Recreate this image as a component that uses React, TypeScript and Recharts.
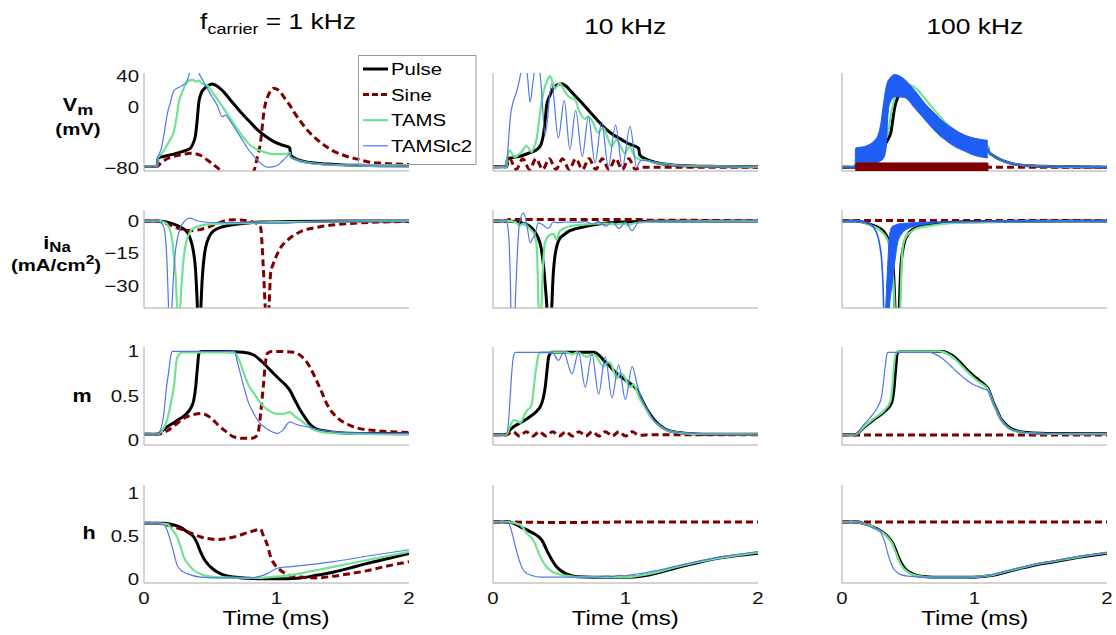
import React from 'react';
import { ComposedChart, Line, Area, XAxis, YAxis } from 'recharts';

type P = [number, number][];
type B = [number, number, number][];

// ---------- axis ticks ----------
const vmTicks = [-80, 0, 40];
const inaTicks = [-30, -15, 0];
const mTicks = [0, 0.5, 1];
const hTicks = [0, 0.5, 1];
const timeTicks = [0, 1, 2];
const colTitles = ['1 kHz', '10 kHz', '100 kHz'];
const legendNames = ['Pulse', 'Sine', 'TAMS', 'TAMSlc2'];

// ---------- 1 kHz ----------
const vm1Pulse: P = [[0,-78],[0.1,-78],[0.105,-67],[0.15,-65],[0.225,-62],[0.3,-58],[0.351,-54],[0.375,-46],[0.389,-37],[0.4,-20],[0.414,6],[0.43,17],[0.452,23],[0.48,27],[0.515,29.5],[0.55,27],[0.603,19],[0.66,7],[0.729,-6.8],[0.8,-20],[0.855,-30],[0.92,-39],[0.98,-45.7],[1.04,-50],[1.094,-53],[1.1,-54],[1.107,-63],[1.15,-68.5],[1.233,-72.4],[1.3,-74],[1.384,-75],[1.5,-76],[1.635,-76.5],[1.8,-77],[2,-77.5]];
const vm1Sine: P = [[0,-78],[0.1,-78],[0.125,-74],[0.175,-68],[0.225,-65],[0.3,-62],[0.351,-60.8],[0.427,-63.6],[0.48,-70],[0.527,-76],[0.57,-82],[0.603,-86],[0.65,-91],[0.72,-95],[0.78,-92],[0.829,-84],[0.85,-70],[0.88,-45.7],[0.905,-6.8],[0.943,16.8],[0.98,24.2],[1.02,21],[1.056,12.6],[1.1,2],[1.131,-6.8],[1.18,-19],[1.233,-30.6],[1.3,-42],[1.358,-50],[1.42,-57],[1.484,-62],[1.55,-66],[1.61,-68.5],[1.686,-72],[1.8,-74],[1.9,-75],[2,-75.5]];
const vm1Tams: P = [[0,-78],[0.1,-78],[0.105,-67],[0.14,-60],[0.175,-50],[0.2,-42],[0.225,-32.7],[0.245,-15],[0.263,6],[0.288,19],[0.31,28],[0.338,34],[0.37,35],[0.39,33],[0.414,34],[0.44,29.8],[0.477,27.7],[0.515,19],[0.553,10],[0.6,-2],[0.653,-15.5],[0.7,-28],[0.754,-41],[0.8,-50],[0.855,-56],[0.92,-60],[0.98,-62],[1.04,-62],[1.094,-61],[1.1,-60],[1.107,-66],[1.15,-69.5],[1.233,-73],[1.384,-75.5],[1.635,-77],[2,-78]];
const vm1Lc2: P = [[0,-78],[0.1,-78],[0.105,-67],[0.13,-55],[0.15,-37],[0.175,-10],[0.2,6],[0.225,21],[0.26,25],[0.288,27.6],[0.326,34],[0.34,42],[0.355,55],[0.39,60],[0.405,55],[0.414,45],[0.44,36],[0.465,27.6],[0.51,14],[0.553,1.7],[0.59,-13],[0.605,-12],[0.616,-11],[0.64,-16],[0.678,-26],[0.73,-40],[0.78,-54],[0.83,-65],[0.88,-73.7],[0.93,-79],[0.97,-78.5],[1.006,-76.7],[1.05,-70],[1.08,-65],[1.1,-61],[1.107,-66],[1.15,-69.5],[1.233,-73],[1.384,-75.5],[1.635,-77],[2,-78]];

const ina1Pulse: P = [[0,0],[0.1,0],[0.15,-0.3],[0.2,-1],[0.276,-2.9],[0.33,-5.5],[0.35,-8.3],[0.37,-13],[0.389,-22.5],[0.4,-35],[0.414,-55],[0.425,-45],[0.44,-26],[0.455,-16],[0.465,-12.2],[0.49,-7.5],[0.527,-4.5],[0.6,-2.6],[0.68,-1.7],[0.88,-0.5],[1.1,-0.3],[1.5,-0.1],[2,0]];
const ina1Sine: P = [[0,0],[0.1,0],[0.175,-1.4],[0.276,-3.7],[0.35,-4.5],[0.42,-4],[0.48,-3],[0.56,-1],[0.62,0.2],[0.68,0.5],[0.75,0.3],[0.82,-0.5],[0.86,-1.5],[0.88,-3],[0.9,-21],[0.915,-40],[0.93,-55],[0.945,-38],[0.955,-24.4],[0.98,-19],[1.006,-15.2],[1.04,-11.5],[1.08,-9],[1.18,-5],[1.33,-2.7],[1.56,-1.2],[1.8,-0.5],[2,-0.3]];
const ina1Tams: P = [[0,0],[0.1,0],[0.15,-0.5],[0.175,-1.5],[0.2,-5],[0.213,-9],[0.225,-16],[0.238,-24.4],[0.25,-40],[0.262,-50],[0.275,-38],[0.285,-28],[0.3,-17],[0.313,-11.4],[0.34,-6],[0.365,-3.7],[0.42,-2.3],[0.478,-1.6],[0.7,-1],[1.1,-0.5],[1.5,-0.2],[2,0]];
const ina1Lc2: P = [[0,0],[0.1,0],[0.13,-1],[0.15,-3],[0.165,-10],[0.175,-21],[0.188,-45],[0.2,-55],[0.212,-38],[0.22,-28],[0.235,-15],[0.25,-8.8],[0.275,-3],[0.3,-0.6],[0.33,1],[0.35,1.3],[0.38,0.5],[0.45,-0.5],[0.6,-0.8],[0.8,-0.8],[1.0,-1],[1.1,-1],[1.2,-0.5],[1.5,-0.2],[2,0]];

const m1Pulse: P = [[0,0.07],[0.1,0.07],[0.13,0.1],[0.175,0.155],[0.225,0.2],[0.276,0.25],[0.32,0.3],[0.351,0.36],[0.375,0.45],[0.39,0.6],[0.405,0.85],[0.414,0.976],[0.43,1],[0.6,1],[0.75,0.99],[0.829,0.96],[0.88,0.9],[0.93,0.826],[0.98,0.75],[1.03,0.677],[1.07,0.62],[1.1,0.566],[1.14,0.45],[1.18,0.34],[1.22,0.25],[1.258,0.174],[1.3,0.13],[1.36,0.11],[1.5,0.085],[1.7,0.078],[2,0.075]];
const m1Sine: P = [[0,0.07],[0.1,0.07],[0.175,0.11],[0.24,0.18],[0.3,0.25],[0.37,0.29],[0.43,0.305],[0.5,0.26],[0.56,0.174],[0.62,0.1],[0.68,0.04],[0.75,0.025],[0.81,0.025],[0.84,0.04],[0.86,0.08],[0.88,0.3],[0.9,0.6],[0.915,0.85],[0.93,0.976],[0.96,1.0],[1.0,1.0],[1.13,0.99],[1.2,0.93],[1.25,0.83],[1.3,0.68],[1.34,0.55],[1.38,0.41],[1.43,0.3],[1.48,0.23],[1.54,0.18],[1.61,0.14],[1.76,0.11],[2,0.09]];
const m1Tams: P = [[0,0.07],[0.1,0.07],[0.13,0.1],[0.175,0.23],[0.2,0.4],[0.225,0.6],[0.25,0.93],[0.29,0.99],[0.68,0.99],[0.72,0.9],[0.754,0.75],[0.79,0.62],[0.83,0.53],[0.87,0.44],[0.905,0.38],[0.95,0.33],[1.0,0.3],[1.05,0.3],[1.1,0.32],[1.14,0.27],[1.18,0.23],[1.24,0.16],[1.3,0.11],[1.4,0.085],[1.6,0.075],[2,0.07]];
const m1Lc2: P = [[0,0.07],[0.1,0.07],[0.125,0.12],[0.15,0.305],[0.17,0.6],[0.188,0.79],[0.2,0.93],[0.213,1.0],[0.68,1.0],[0.71,0.85],[0.754,0.6],[0.79,0.42],[0.83,0.3],[0.87,0.2],[0.905,0.155],[0.95,0.11],[1.006,0.08],[1.05,0.12],[1.1,0.21],[1.15,0.18],[1.23,0.155],[1.3,0.13],[1.43,0.1],[1.6,0.085],[2,0.08]];

const h1Pulse: P = [[0,0.65],[0.1,0.65],[0.15,0.65],[0.225,0.63],[0.28,0.6],[0.326,0.55],[0.376,0.49],[0.4,0.42],[0.427,0.315],[0.45,0.24],[0.477,0.18],[0.515,0.12],[0.553,0.08],[0.6,0.045],[0.678,0.02],[0.8,0.005],[0.88,0.0],[1.0,0.0],[1.18,0.01],[1.3,0.04],[1.434,0.08],[1.55,0.125],[1.686,0.18],[1.85,0.24],[2,0.296]];
const h1Sine: P = [[0,0.65],[0.1,0.65],[0.2,0.62],[0.3,0.57],[0.43,0.49],[0.55,0.46],[0.68,0.49],[0.8,0.55],[0.88,0.58],[0.9,0.51],[0.93,0.4],[0.955,0.26],[0.99,0.16],[1.03,0.1],[1.1,0.04],[1.18,0.02],[1.3,0.01],[1.43,0.03],[1.56,0.06],[1.7,0.1],[1.81,0.14],[2,0.2]];
const h1Tams: P = [[0,0.65],[0.1,0.65],[0.175,0.64],[0.21,0.58],[0.25,0.49],[0.275,0.38],[0.3,0.256],[0.34,0.16],[0.376,0.1],[0.42,0.06],[0.477,0.03],[0.6,0.015],[0.7,0.01],[0.86,0.01],[0.95,0.02],[1.1,0.04],[1.25,0.085],[1.43,0.14],[1.686,0.22],[2,0.316]];
const h1Lc2: P = [[0,0.65],[0.1,0.65],[0.15,0.63],[0.175,0.57],[0.195,0.47],[0.213,0.37],[0.23,0.27],[0.25,0.16],[0.28,0.1],[0.326,0.06],[0.43,0.02],[0.6,0.01],[0.8,0.01],[0.88,0.03],[0.93,0.06],[1.0,0.12],[1.05,0.135],[1.1,0.14],[1.25,0.165],[1.43,0.2],[1.7,0.27],[2,0.34]];

// ---------- 10 kHz ----------
const vm10Pulse: P = [[0,-78.5],[0.103,-78.5],[0.108,-68],[0.15,-66.5],[0.216,-64],[0.28,-60],[0.342,-54.5],[0.365,-48],[0.38,-37],[0.395,-15],[0.405,1.8],[0.43,15],[0.468,27],[0.518,30],[0.55,27],[0.594,19],[0.66,7],[0.72,-4.6],[0.78,-16],[0.845,-28],[0.91,-37],[0.97,-43],[1.03,-49],[1.097,-54],[1.1,-55],[1.107,-63],[1.15,-68],[1.22,-72.5],[1.32,-75.5],[1.5,-77.5],[1.7,-78],[2,-78.5]];
const vm10Sine: P = [[0,-78.5],[0.1,-78.5],[0.125,-68],[0.175,-82],[0.225,-68],[0.275,-82],[0.325,-68],[0.375,-82],[0.425,-68],[0.475,-82],[0.525,-68],[0.575,-82],[0.625,-68],[0.675,-82],[0.725,-68],[0.775,-82],[0.825,-68],[0.875,-82],[0.925,-68],[0.975,-82],[1.025,-68],[1.075,-82],[1.1,-80],[1.15,-79],[2,-79]];
const vm10Tams: P = [[0,-78.5],[0.103,-78.5],[0.108,-66],[0.128,-57],[0.145,-62],[0.166,-66],[0.19,-63],[0.216,-59],[0.24,-53],[0.254,-51],[0.275,-56],[0.29,-59],[0.31,-53],[0.33,-41],[0.35,-15],[0.367,6],[0.385,22],[0.405,32],[0.43,40],[0.45,32],[0.468,23.6],[0.49,28],[0.505,30],[0.53,24],[0.556,16],[0.59,11],[0.615,10],[0.656,-8],[0.694,-16],[0.72,-13],[0.75,-19],[0.795,-34],[0.815,-30],[0.833,-28],[0.86,-38],[0.895,-52],[0.915,-47],[0.933,-43],[0.96,-51],[0.996,-61],[1.015,-55],[1.03,-52],[1.055,-60],[1.08,-67],[1.1,-68],[1.107,-69],[1.15,-70],[1.22,-73],[1.32,-75.5],[1.5,-77.5],[1.7,-78],[2,-78.5]];
const vm10Lc2: P = [[0,-78.5],[0.103,-78.5],[0.115,-50],[0.13,-15],[0.15,5],[0.175,18],[0.2,35],[0.22,55],[0.24,62],[0.26,40],[0.28,6],[0.3,30],[0.32,55],[0.34,62],[0.36,35],[0.393,-37],[0.443,30],[0.493,-41],[0.538,8],[0.58,-56],[0.624,-5],[0.674,-65],[0.72,-13],[0.77,-73.7],[0.82,-20],[0.87,-78],[0.925,-24],[0.976,-79.3],[1.034,-26],[1.085,-80],[1.1,-74],[1.12,-70],[1.15,-70],[1.22,-73],[1.32,-75.5],[1.5,-77.5],[1.7,-78],[2,-78.5]];

const ina10Pulse: P = [[0,0],[0.103,0],[0.166,-0.3],[0.22,-1],[0.267,-2],[0.31,-4.5],[0.342,-8],[0.365,-13],[0.38,-20],[0.395,-30],[0.405,-38],[0.418,-55],[0.43,-60],[0.44,-45],[0.455,-24],[0.468,-16],[0.48,-12],[0.5,-8.5],[0.53,-6.7],[0.57,-4.8],[0.62,-3.7],[0.72,-2.2],[0.845,-1.1],[1,-0.5],[1.2,-0.2],[2,0]];
const ina10Sine: P = [[0,0],[0.1,0],[0.12,0.6],[1.1,0.6],[1.2,0.3],[2,0.2]];
const ina10Tams: P = [[0,0],[0.103,0],[0.166,-0.5],[0.2,-2],[0.23,-1.3],[0.26,-2.5],[0.28,-3.7],[0.3,-5],[0.316,-6.7],[0.33,-12],[0.337,-23.7],[0.345,-45],[0.352,-55],[0.365,-40],[0.375,-24],[0.392,-10],[0.418,-7],[0.455,-6],[0.48,-8.5],[0.505,-4.6],[0.55,-3],[0.594,-2.3],[0.7,-1.6],[0.845,-1.2],[0.93,-1.6],[0.98,-1.2],[1.02,-2],[1.06,-1.2],[1.1,-0.8],[1.2,-0.3],[2,0]];
const ina10Lc2: P = [[0,0],[0.1,0],[0.112,-3],[0.12,-8],[0.13,-25],[0.14,-50],[0.155,-55],[0.17,-35],[0.183,-16],[0.2,-1],[0.23,3.7],[0.255,-1.5],[0.28,-10],[0.3,-8],[0.316,-6.5],[0.342,-0.8],[0.38,-2],[0.418,-3.5],[0.455,-0.5],[0.49,-0.8],[0.55,-0.5],[0.65,-0.6],[0.7,-0.3],[0.75,-1.5],[0.8,-0.3],[0.85,-2.5],[0.9,-0.5],[0.95,-3.5],[1.0,-0.6],[1.05,-4.5],[1.1,-0.5],[1.2,-0.2],[2,0]];

const m10Pulse: P = [[0,0.065],[0.103,0.065],[0.118,0.1],[0.156,0.155],[0.22,0.21],[0.281,0.27],[0.33,0.33],[0.357,0.38],[0.38,0.48],[0.394,0.6],[0.41,0.82],[0.42,0.94],[0.445,0.99],[0.76,0.99],[0.8,0.96],[0.835,0.9],[0.89,0.82],[0.936,0.75],[0.99,0.69],[1.036,0.64],[1.086,0.57],[1.11,0.5],[1.137,0.42],[1.17,0.33],[1.212,0.24],[1.26,0.17],[1.313,0.12],[1.4,0.09],[1.464,0.08],[1.7,0.07],[2,0.07]];
const m10Sine: P = [[0,0.065],[0.1,0.065],[0.15,0.1],[0.2,0.05],[0.25,0.1],[0.3,0.05],[0.35,0.1],[0.4,0.05],[0.45,0.1],[0.5,0.05],[0.55,0.1],[0.6,0.05],[0.65,0.1],[0.7,0.05],[0.75,0.1],[0.8,0.05],[0.85,0.1],[0.9,0.05],[0.95,0.1],[1.0,0.05],[1.05,0.1],[1.1,0.06],[1.2,0.065],[2,0.065]];
const m10Tams: P = [[0,0.065],[0.103,0.065],[0.118,0.12],[0.156,0.23],[0.18,0.22],[0.206,0.2],[0.235,0.28],[0.257,0.34],[0.28,0.37],[0.294,0.42],[0.307,0.58],[0.32,0.75],[0.335,0.9],[0.345,0.97],[0.37,0.99],[0.55,0.99],[0.6,0.97],[0.635,0.99],[0.71,0.94],[0.745,0.97],[0.77,0.96],[0.835,0.83],[0.865,0.88],[0.885,0.87],[0.936,0.7],[0.96,0.76],[0.986,0.73],[1.036,0.6],[1.06,0.63],[1.11,0.46],[1.15,0.37],[1.187,0.27],[1.262,0.16],[1.35,0.1],[1.5,0.075],[2,0.07]];
const m10Lc2: P = [[0,0.065],[0.103,0.065],[0.118,0.23],[0.13,0.5],[0.143,0.79],[0.155,0.95],[0.17,0.99],[0.445,0.99],[0.495,0.9],[0.533,0.99],[0.596,0.75],[0.646,0.99],[0.696,0.6],[0.747,0.97],[0.797,0.52],[0.847,0.94],[0.898,0.48],[0.948,0.85],[0.999,0.46],[1.05,0.83],[1.086,0.64],[1.11,0.52],[1.137,0.42],[1.175,0.32],[1.212,0.23],[1.26,0.16],[1.313,0.12],[1.4,0.09],[1.6,0.075],[2,0.07]];

const h10Pulse: P = [[0,0.665],[0.118,0.665],[0.206,0.61],[0.26,0.57],[0.307,0.53],[0.37,0.45],[0.407,0.33],[0.445,0.22],[0.475,0.15],[0.508,0.1],[0.55,0.06],[0.608,0.03],[0.7,0.02],[0.784,0.017],[1.036,0.017],[1.1,0.025],[1.16,0.04],[1.28,0.085],[1.413,0.14],[1.55,0.19],[1.664,0.23],[1.83,0.27],[2,0.3]];
const h10Sine: P = [[0,0.665],[0.1,0.665],[0.5,0.66],[1.0,0.665],[2,0.665]];
const h10Tams: P = [[0,0.665],[0.118,0.665],[0.206,0.63],[0.257,0.53],[0.3,0.46],[0.32,0.4],[0.345,0.3],[0.37,0.22],[0.394,0.16],[0.44,0.09],[0.483,0.06],[0.56,0.035],[0.66,0.02],[1.036,0.02],[1.1,0.035],[1.16,0.05],[1.413,0.15],[1.7,0.24],[2,0.31]];
const h10Lc2: P = [[0,0.665],[0.11,0.665],[0.13,0.61],[0.15,0.5],[0.17,0.37],[0.19,0.26],[0.206,0.18],[0.23,0.1],[0.257,0.06],[0.3,0.035],[0.357,0.02],[0.784,0.02],[0.85,0.03],[0.9,0.025],[0.95,0.04],[1.0,0.035],[1.05,0.05],[1.11,0.06],[1.25,0.1],[1.413,0.16],[1.7,0.25],[2,0.32]];

// ---------- 100 kHz ----------
const vm100Pulse: P = [[0,-79],[0.1,-79],[0.105,-75.8],[0.169,-71.5],[0.245,-65],[0.295,-56.4],[0.34,-45],[0.37,-32.6],[0.385,-15],[0.396,-2.5],[0.421,12.6],[0.446,19],[0.471,21],[0.5,19.5],[0.547,14.7],[0.6,6],[0.648,-2.5],[0.71,-13],[0.774,-24],[0.85,-34],[0.925,-41.4],[1.0,-47],[1.09,-52],[1.1,-53],[1.107,-58.5],[1.152,-65],[1.228,-71.5],[1.3,-75],[1.45,-77.5],[1.7,-78.5],[2,-79]];
const vm100Sine: P = [[0,-79],[1,-79],[2,-79]];
const vm100SineBand: B = [[0.1,-86,-79],[0.11,-86,-73.5],[0.6,-86,-73.5],[1.1,-86,-73.5],[1.105,-86,-79]];
const vm100Tams: P = [[0,-79],[0.1,-79],[0.105,-75],[0.169,-70],[0.245,-62],[0.295,-50],[0.345,-35],[0.37,-10],[0.396,10.5],[0.434,23.4],[0.471,29.8],[0.5,29],[0.547,25.5],[0.6,16],[0.648,6],[0.71,-7],[0.774,-19.8],[0.85,-31],[0.925,-39.3],[1.0,-45],[1.09,-51],[1.1,-52],[1.107,-58],[1.152,-65],[1.228,-71.5],[1.3,-75],[1.45,-77.5],[1.7,-78.5],[2,-79]];
const vm100Lc2: P = [[0,-79],[0.1,-79],[0.17,-65],[0.245,-59.5],[0.29,-48],[0.31,-34],[0.335,-11.5],[0.36,20],[0.4,27.5],[0.47,25],[0.55,10],[0.65,-10],[0.775,-32],[0.925,-47],[1.0,-52],[1.1,-55],[1.107,-58.5],[1.152,-65],[1.228,-71.5],[1.3,-75],[1.45,-77.5],[1.7,-78.5],[2,-79]];
const vm100Lc2Band: B = [[0.1,-79,-79],[0.102,-79,-54],[0.17,-78,-52],[0.245,-75,-44],[0.27,-73,-38],[0.29,-71,-25],[0.31,-68,0],[0.325,-62,18],[0.335,-50,27],[0.345,-15,33],[0.36,4,37],[0.4,13,42],[0.47,12,36],[0.55,-2,21],[0.65,-22,-1],[0.72,-35,-13],[0.775,-43,-21],[0.85,-52,-30],[0.925,-58,-37],[0.975,-62,-40],[1.1,-67,-44]];

const ina100Pulse: P = [[0,0],[0.1,0],[0.21,-1.5],[0.31,-4.6],[0.36,-10.8],[0.38,-18],[0.391,-26],[0.4,-40],[0.411,-55],[0.426,-55],[0.435,-35],[0.444,-21.4],[0.46,-13],[0.474,-9.2],[0.5,-6],[0.537,-3.8],[0.6,-2.3],[0.663,-1.5],[0.8,-0.7],[1,-0.4],[1.3,-0.2],[2,0]];
const ina100Sine: P = [[0,0.2],[1,0.2],[2,0.2]];
const ina100Tams: P = [[0,0],[0.1,0],[0.21,-1.8],[0.3,-5],[0.336,-7.8],[0.36,-12],[0.373,-17],[0.39,-30],[0.405,-50],[0.42,-55],[0.437,-45],[0.45,-20],[0.462,-10.8],[0.49,-6.5],[0.512,-5.4],[0.56,-3.5],[0.663,-2.3],[0.8,-1.2],[1,-0.6],[1.2,-0.3],[2,0]];
const ina100Lc2: P = [[0,0],[0.1,0],[0.21,-1.5],[0.25,-4],[0.273,-7.7],[0.29,-13],[0.298,-17],[0.31,-30],[0.32,-50],[0.335,-55],[0.35,-40],[0.36,-25],[0.38,-12],[0.42,-5],[0.5,-2.5],[0.6,-1.2],[0.8,-0.5],[1.1,-0.3],[1.3,-0.1],[2,0]];
const ina100Lc2Band: B = [[0.33,-55,-40],[0.345,-50,-20],[0.36,-38,-6],[0.38,-28,-2.5],[0.4,-18,-2],[0.42,-10,-1.5],[0.45,-6,-1.2],[0.5,-3.5,-1],[0.6,-1.8,-0.6],[0.7,-1,-0.5]];

const m100Pulse: P = [[0,0.065],[0.1,0.065],[0.159,0.14],[0.235,0.23],[0.323,0.33],[0.373,0.42],[0.39,0.55],[0.398,0.68],[0.408,0.85],[0.416,0.98],[0.436,1.0],[0.764,1.0],[0.8,0.98],[0.84,0.95],[0.89,0.88],[0.94,0.8],[0.99,0.73],[1.04,0.67],[1.08,0.62],[1.104,0.58],[1.12,0.52],[1.142,0.43],[1.17,0.34],[1.193,0.26],[1.23,0.19],[1.268,0.14],[1.33,0.105],[1.395,0.09],[1.6,0.078],[2,0.075]];
const m100Sine: P = [[0,0.062],[1,0.062],[2,0.062]];
const m100Tams: P = [[0,0.065],[0.1,0.065],[0.159,0.145],[0.235,0.24],[0.32,0.34],[0.365,0.44],[0.38,0.6],[0.39,0.8],[0.405,0.97],[0.425,1.0],[0.74,1.0],[0.8,0.97],[0.84,0.93],[0.89,0.86],[0.94,0.78],[0.99,0.71],[1.04,0.65],[1.08,0.61],[1.104,0.57],[1.12,0.51],[1.142,0.42],[1.17,0.33],[1.193,0.25],[1.23,0.18],[1.268,0.13],[1.33,0.1],[1.395,0.085],[1.6,0.075],[2,0.072]];
const m100Lc2: P = [[0,0.065],[0.1,0.065],[0.159,0.17],[0.235,0.3],[0.27,0.38],[0.298,0.49],[0.31,0.62],[0.323,0.79],[0.335,0.93],[0.343,0.99],[0.663,0.99],[0.7,0.97],[0.739,0.94],[0.79,0.88],[0.84,0.81],[0.89,0.74],[0.94,0.68],[0.99,0.63],[1.04,0.6],[1.08,0.575],[1.104,0.56],[1.12,0.51],[1.142,0.42],[1.17,0.33],[1.193,0.25],[1.23,0.18],[1.268,0.13],[1.33,0.1],[1.395,0.085],[1.6,0.075],[2,0.072]];

const h100Pulse: P = [[0,0.665],[0.1,0.665],[0.159,0.65],[0.26,0.59],[0.336,0.51],[0.386,0.41],[0.41,0.32],[0.424,0.26],[0.45,0.18],[0.474,0.12],[0.51,0.075],[0.562,0.04],[0.62,0.025],[0.688,0.017],[0.966,0.017],[1.05,0.025],[1.142,0.04],[1.24,0.08],[1.344,0.12],[1.47,0.165],[1.6,0.2],[1.8,0.255],[2,0.3]];
const h100Sine: P = [[0,0.665],[1,0.665],[2,0.665]];
const h100Tams: P = [[0,0.665],[0.1,0.665],[0.159,0.65],[0.26,0.585],[0.33,0.51],[0.38,0.41],[0.403,0.32],[0.418,0.26],[0.44,0.18],[0.465,0.12],[0.5,0.075],[0.55,0.04],[0.62,0.023],[0.688,0.017],[0.966,0.017],[1.05,0.027],[1.142,0.045],[1.24,0.085],[1.344,0.125],[1.47,0.17],[1.6,0.205],[1.8,0.26],[2,0.305]];
const h100Lc2: P = [[0,0.665],[0.1,0.665],[0.159,0.65],[0.23,0.6],[0.285,0.57],[0.305,0.5],[0.323,0.43],[0.34,0.33],[0.361,0.22],[0.385,0.13],[0.411,0.08],[0.45,0.045],[0.5,0.03],[0.6,0.02],[0.966,0.017],[1.09,0.03],[1.142,0.05],[1.24,0.09],[1.344,0.13],[1.47,0.175],[1.6,0.21],[1.8,0.265],[2,0.31]];

// ---------- layout & style ----------
const FONT = '"Liberation Sans", Arial, Helvetica, sans-serif';
const SX = 1.2;
const AX = '#a8a8a8';
const COL = { pulse: '#000000', sine: '#800000', tams: '#6fe390', lc2: '#4f78e8', band: '#1f5ef5' };
const DASH = '7 4';

const colLeft = [143.5, 492.7, 842.3];
const rowTop = [72.5, 209.5, 347, 485];
const PW = 265, PH = 98, YW = 60, XH = 40, MT = 12, MR = 6;

const ROWS = [
  { domain: [-84, 44], ticks: vmTicks },
  { domain: [-40, 5], ticks: inaTicks },
  { domain: [-0.05, 1.05], ticks: mTicks },
  { domain: [-0.05, 1.1], ticks: hTicks },
];

interface PanelDef { col: number; row: number; pulse: P; sine: P; tams: P; lc2: P; lc2Band?: B; sineBand?: B }

const PANELS: PanelDef[] = [
  { col: 0, row: 0, pulse: vm1Pulse, sine: vm1Sine, tams: vm1Tams, lc2: vm1Lc2 },
  { col: 0, row: 1, pulse: ina1Pulse, sine: ina1Sine, tams: ina1Tams, lc2: ina1Lc2 },
  { col: 0, row: 2, pulse: m1Pulse, sine: m1Sine, tams: m1Tams, lc2: m1Lc2 },
  { col: 0, row: 3, pulse: h1Pulse, sine: h1Sine, tams: h1Tams, lc2: h1Lc2 },
  { col: 1, row: 0, pulse: vm10Pulse, sine: vm10Sine, tams: vm10Tams, lc2: vm10Lc2 },
  { col: 1, row: 1, pulse: ina10Pulse, sine: ina10Sine, tams: ina10Tams, lc2: ina10Lc2 },
  { col: 1, row: 2, pulse: m10Pulse, sine: m10Sine, tams: m10Tams, lc2: m10Lc2 },
  { col: 1, row: 3, pulse: h10Pulse, sine: h10Sine, tams: h10Tams, lc2: h10Lc2 },
  { col: 2, row: 0, pulse: vm100Pulse, sine: vm100Sine, tams: vm100Tams, lc2: vm100Lc2, lc2Band: vm100Lc2Band, sineBand: vm100SineBand },
  { col: 2, row: 1, pulse: ina100Pulse, sine: ina100Sine, tams: ina100Tams, lc2: ina100Lc2, lc2Band: ina100Lc2Band },
  { col: 2, row: 2, pulse: m100Pulse, sine: m100Sine, tams: m100Tams, lc2: m100Lc2 },
  { col: 2, row: 3, pulse: h100Pulse, sine: h100Sine, tams: h100Tams, lc2: h100Lc2 },
];

const toPts = (p: P) => p.map(([t, v]) => ({ t, v }));
const toBand = (b: B) => b.map(([t, lo, hi]) => ({ t, r: [lo, hi] }));
const fmt = (v: number) => (v < 0 ? '\u2212' + Math.abs(v) : String(v));

const YTick = (props: any) => {
  const { x, y, payload } = props;
  return (
    <text transform={`translate(${x},${y}) scale(${SX},1)`} textAnchor="end" dominantBaseline="central"
      fontSize={17} fontFamily={FONT} fill="#111">{fmt(payload.value)}</text>
  );
};

const XTick = (props: any) => {
  const { x, y, payload } = props;
  return (
    <text transform={`translate(${x},${y}) scale(${SX},1)`} textAnchor="middle" dy="0.71em"
      fontSize={17} fontFamily={FONT} fill="#111">{fmt(payload.value)}</text>
  );
};

const chartBox = (d: PanelDef): React.CSSProperties => ({ position: 'absolute', left: colLeft[d.col] - YW, top: rowTop[d.row] - MT });

function Panel({ d }: { d: PanelDef }) {
  const r = ROWS[d.row];
  const bottom = d.row === 3;
  return (
    <div style={chartBox(d)}>
      <ComposedChart width={YW + PW + MR} height={MT + PH + XH} margin={{ top: MT, right: MR, bottom: 0, left: 0 }}>
        <XAxis type="number" dataKey="t" domain={[0, 2]} ticks={timeTicks} allowDataOverflow height={XH}
          axisLine={{ stroke: AX }} tickLine={false} tick={bottom ? XTick : false} tickSize={3} tickMargin={6} interval={0} />
        <YAxis type="number" domain={r.domain} ticks={r.ticks} allowDataOverflow width={YW}
          axisLine={{ stroke: AX }} tickLine={false} tick={d.col === 0 ? YTick : false} tickSize={3} tickMargin={2} interval={0} />
        <Line data={toPts(d.pulse)} dataKey="v" type="monotone" stroke={COL.pulse} strokeWidth={3} dot={false} activeDot={false} isAnimationActive={false} />
        <Line data={toPts(d.sine)} dataKey="v" type="monotone" stroke={COL.sine} strokeWidth={3} strokeDasharray={DASH} dot={false} activeDot={false} isAnimationActive={false} />
        <Line data={toPts(d.tams)} dataKey="v" type="monotone" stroke={COL.tams} strokeWidth={2.2} dot={false} activeDot={false} isAnimationActive={false} />
        <Line data={toPts(d.lc2)} dataKey="v" type="monotone" stroke={d.lc2Band ? COL.band : COL.lc2} strokeWidth={d.lc2Band ? 1.6 : 1.2} dot={false} activeDot={false} isAnimationActive={false} />
      </ComposedChart>
    </div>
  );
}

// band layer drawn in a second, identical chart stacked on top, so it covers the lines
function BandLayer({ d }: { d: PanelDef }) {
  const r = ROWS[d.row];
  return (
    <div style={chartBox(d)}>
      <ComposedChart width={YW + PW + MR} height={MT + PH + XH} margin={{ top: MT, right: MR, bottom: 0, left: 0 }}>
        <XAxis type="number" dataKey="t" domain={[0, 2]} ticks={timeTicks} allowDataOverflow height={XH}
          axisLine={false} tickLine={false} tick={false} />
        <YAxis type="number" domain={r.domain} ticks={r.ticks} allowDataOverflow width={YW}
          axisLine={false} tickLine={false} tick={false} />
        {d.lc2Band && (
          <Area data={toBand(d.lc2Band)} dataKey="r" type="monotone" stroke={COL.band} strokeWidth={1} fill={COL.band} fillOpacity={1} dot={false} activeDot={false} isAnimationActive={false} />
        )}
        {d.sineBand && (
          <Area data={toBand(d.sineBand)} dataKey="r" type="linear" stroke={COL.sine} strokeWidth={1} fill={COL.sine} fillOpacity={1} dot={false} activeDot={false} isAnimationActive={false} />
        )}
      </ComposedChart>
    </div>
  );
}

const ST = ({ x, y, anchor = 'start', size, bold, children }: any) => (
  <text transform={`translate(${x},${y}) scale(${SX},1)`} textAnchor={anchor} fontSize={size}
    fontWeight={bold ? 'bold' : 'normal'} fontFamily={FONT} fill="#000">{children}</text>
);

const legendStyles = [
  { stroke: COL.pulse, w: 3, dash: undefined as string | undefined },
  { stroke: COL.sine, w: 3, dash: '6 3' },
  { stroke: COL.tams, w: 2.2, dash: undefined },
  { stroke: COL.lc2, w: 1.2, dash: undefined },
];

export default function App() {
  const centers = colLeft.map((l) => l + PW / 2);
  return (
    <div style={{ position: 'absolute', left: 0, top: 0, width: 1116, height: 635, background: '#fff', overflow: 'hidden' }}>
      {PANELS.map((d, i) => <Panel key={i} d={d} />)}
      {PANELS.filter((d) => d.lc2Band || d.sineBand).map((d, i) => <BandLayer key={'b' + i} d={d} />)}
      <svg width={1116} height={635} style={{ position: 'absolute', left: 0, top: 0, pointerEvents: 'none' }}>
        {/* column titles */}
        <ST x={centers[0] + 2} y={29} anchor="middle" size={22}>
          f<tspan fontSize={15} dy={5}>carrier</tspan><tspan dy={-5}>{' = ' + colTitles[0]}</tspan>
        </ST>
        <ST x={centers[1]} y={34} anchor="middle" size={22}>{colTitles[1]}</ST>
        <ST x={centers[2]} y={34} anchor="middle" size={22}>{colTitles[2]}</ST>

        {/* y labels */}
        <ST x={78} y={111} anchor="middle" size={18} bold>V<tspan fontSize={15} dy={4}>m</tspan></ST>
        <ST x={78} y={135} anchor="middle" size={17} bold>(mV)</ST>
        <ST x={57} y={249} anchor="middle" size={18} bold>i<tspan fontSize={14} dy={3}>Na</tspan></ST>
        <ST x={56} y={271} anchor="middle" size={17} bold>(mA/cm<tspan fontSize={13} dy={-7}>2</tspan><tspan dy={7}>)</tspan></ST>
        <ST x={82} y={402} anchor="middle" size={18} bold>m</ST>
        <ST x={89} y={539} anchor="middle" size={18} bold>h</ST>

        {/* x labels */}
        {centers.map((c, i) => (
          <ST key={i} x={c} y={625} anchor="middle" size={20}>Time (ms)</ST>
        ))}

        {/* legend */}
        <rect x={358.5} y={55.5} width={117.5} height={109} fill="none" stroke="#9a9a9a" strokeWidth={1} />
        {legendNames.map((n, i) => {
          const yc = 69 + i * 25.6;
          const s = legendStyles[i];
          return (
            <g key={n}>
              <line x1={363} x2={388} y1={yc} y2={yc} stroke={s.stroke} strokeWidth={s.w} strokeDasharray={s.dash} />
              <ST x={391} y={yc + 6} size={17}>{n}</ST>
            </g>
          );
        })}
      </svg>
    </div>
  );
}
